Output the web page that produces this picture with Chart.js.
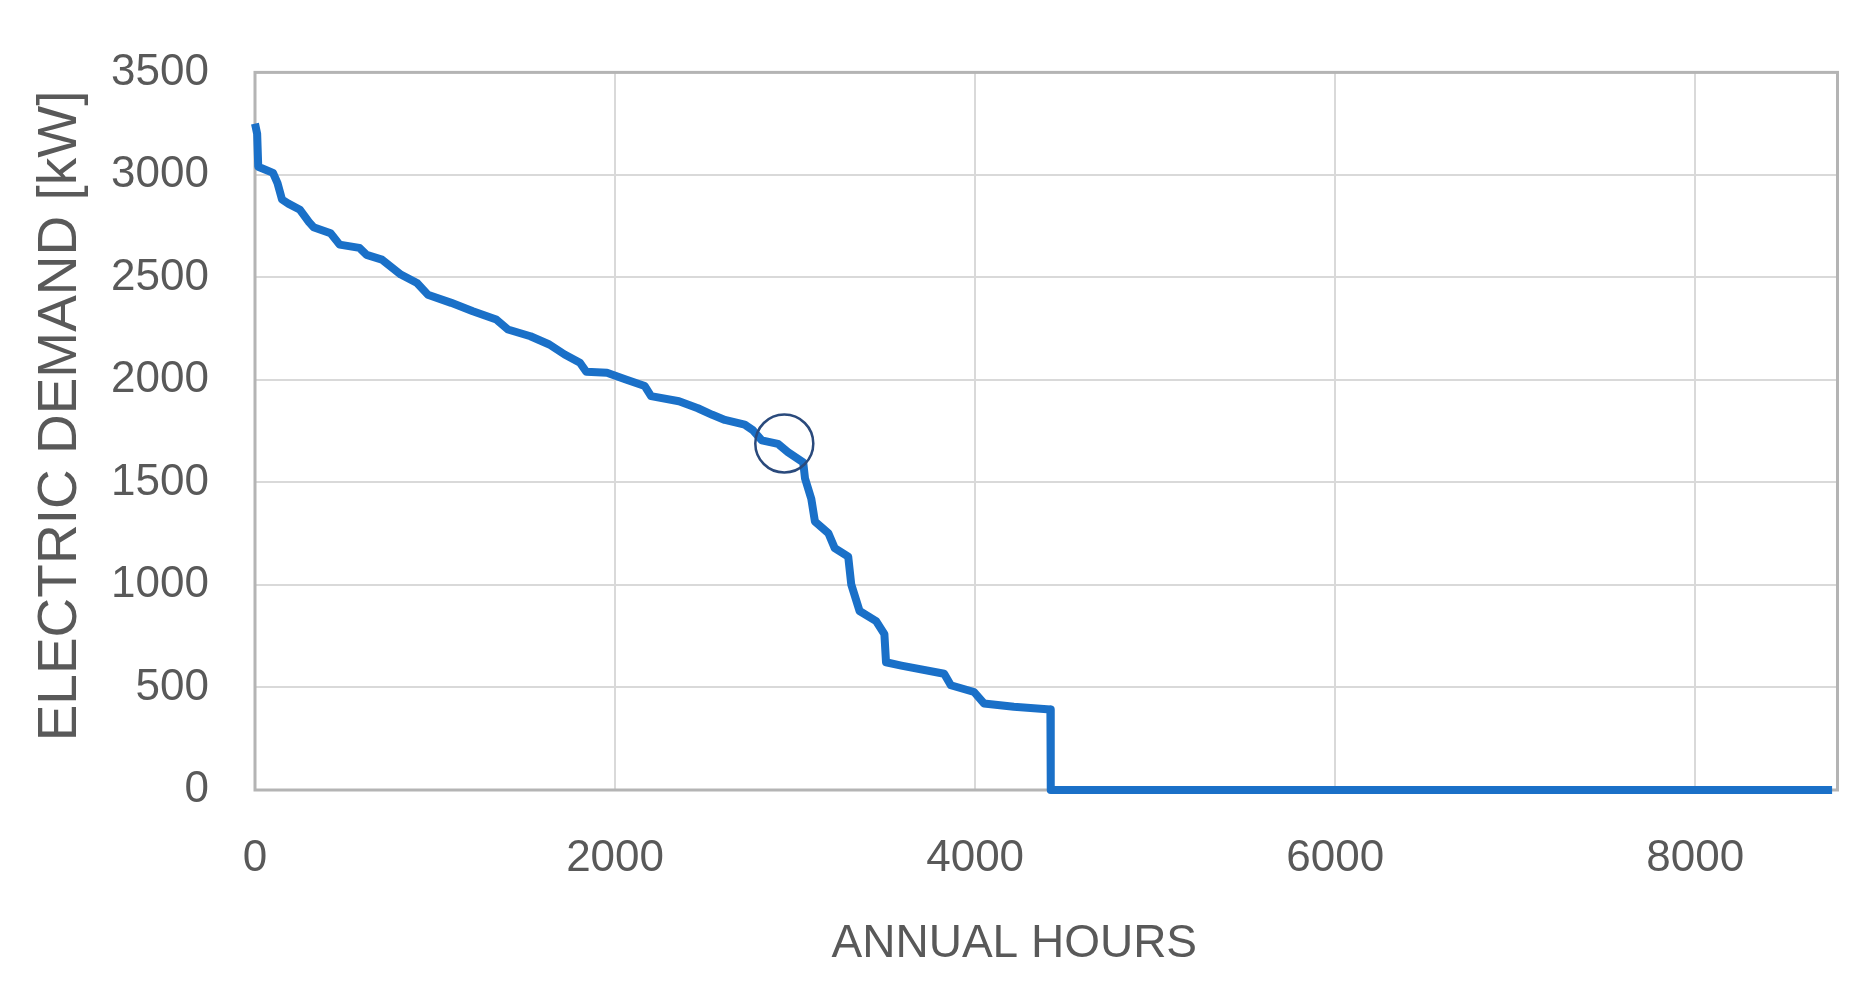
<!DOCTYPE html>
<html>
<head>
<meta charset="utf-8">
<script src="https://cdn.jsdelivr.net/npm/chart.js@4.4.1/dist/chart.umd.min.js"></script>
<style>
  html, body { margin: 0; padding: 0; background: #fff; overflow: hidden; }
  #wrap { width: 1869px; height: 990px; }
</style>
</head>
<body>
<div id="wrap"><canvas id="c"></canvas></div>
<script>
// ─── Data ────────────────────────────────────────────────────────
const hours = [0, 12, 18, 100, 125, 150, 185, 250, 300, 325, 420, 470, 580, 620, 705, 810, 900, 960,
  1090, 1210, 1340, 1405, 1530, 1635, 1720, 1805, 1840, 1955, 2060, 2165, 2200, 2355, 2460, 2540,
  2610, 2720, 2765, 2815, 2905, 2960, 3045, 3055, 3090, 3110, 3185, 3220, 3295, 3312, 3358, 3450,
  3496, 3505, 3590, 3828, 3865, 3994, 4049, 4215, 4418, 4420, 8760];
const demand = [3250, 3200, 3040, 3010, 2960, 2880, 2860, 2830, 2770, 2745, 2715, 2660, 2644, 2610, 2587, 2514, 2473, 2416,
  2376, 2335, 2295, 2246, 2213, 2173, 2124, 2084, 2040, 2035, 2002, 1970, 1921, 1896, 1862, 1830,
  1805, 1782, 1755, 1705, 1688, 1648, 1598, 1520, 1420, 1310, 1252, 1180, 1138, 1002, 873, 824,
  760, 623, 607, 567, 511, 478, 422, 406, 393, 0, 0];
const marker = [{ x: 2940, y: 1690 }];

const xTicks = [0, 2000, 4000, 6000, 8000];
const yTicks = [0, 500, 1000, 1500, 2000, 2500, 3000, 3500];

const TXT = '#595959';
const GRID = '#d9d9d9';

// ─── Plot frame, drawn under the line ────────────────────────────
const frame = {
  id: 'frame',
  beforeDatasetsDraw(chart) {
    const { ctx, chartArea: a } = chart;
    ctx.save();
    ctx.strokeStyle = '#b4b4b4';
    ctx.lineWidth = 3;
    ctx.strokeRect(a.left, a.top, a.right - a.left, a.bottom - a.top);
    ctx.restore();
  }
};

new Chart(document.getElementById('c'), {
  type: 'scatter',
  data: {
    datasets: [{
      label: 'demand',
      data: hours.map((h, i) => ({ x: h, y: demand[i] })),
      showLine: true,
      borderColor: '#1a70c8',
      borderWidth: 8,
      borderJoinStyle: 'round',
      borderCapStyle: 'butt',
      pointRadius: 0,
      tension: 0,
      clip: false,
      order: 1,
    }, {
      label: 'mark',
      data: marker,
      showLine: false,
      pointStyle: 'circle',
      pointRadius: 29,
      pointBorderWidth: 2.5,
      pointBorderColor: '#2a4a7c',
      pointBackgroundColor: 'rgba(0,0,0,0)',
      clip: false,
      order: 0,
    }]
  },
  options: {
    responsive: true,
    maintainAspectRatio: false,
    animation: false,
    layout: { padding: { left: 0, top: 72, right: 26, bottom: 0 } },
    plugins: { legend: { display: false }, tooltip: { enabled: false } },
    scales: {
      x: {
        type: 'linear',
        min: 0, max: 8790,
        afterBuildTicks: s => { s.ticks = xTicks.map(v => ({ value: v })); },
        afterFit: s => { s.height = 200; s.paddingLeft = 0; s.paddingRight = 0; },
        grid: { color: GRID, lineWidth: 2, drawTicks: false },
        border: { display: false },
        ticks: { color: TXT, padding: 42, callback: v => String(v), font: { family: 'Liberation Sans', size: 44 } },
        title: {
          display: true,
          text: 'ANNUAL HOURS     ',
          color: TXT,
          font: { family: 'Liberation Sans', size: 46 },
          padding: { top: 0, bottom: 18 },
        },
      },
      y: {
        min: 0, max: 3500,
        afterBuildTicks: s => { s.ticks = yTicks.map(v => ({ value: v })); },
        afterFit: s => { s.width = 255; },
        grid: { color: GRID, lineWidth: 2, drawTicks: false },
        border: { display: false },
        ticks: { color: TXT, padding: 46, callback: v => String(v), font: { family: 'Liberation Sans', size: 44 } },
        title: {
          display: true,
          text: '  ELECTRIC DEMAND [kW]',
          color: TXT,
          font: { family: 'Liberation Sans', size: 55 },
          padding: { top: 28, bottom: 0 },
        },
      },
    },
  },
  plugins: [frame],
});
</script>
</body>
</html>
